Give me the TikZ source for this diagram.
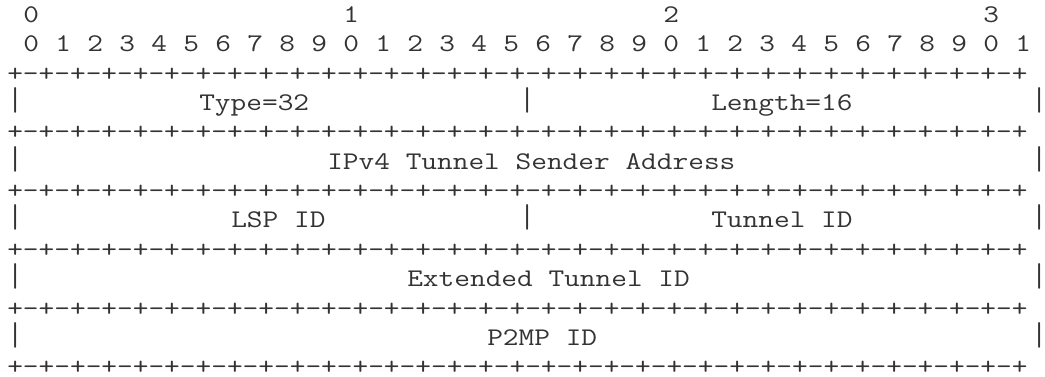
\documentclass[tikz,border=0pt]{standalone}
\usepackage{fontspec}
\usepackage{tikz}
\setmonofont{Latin Modern Mono}[FakeStretch=1.2]
\usetikzlibrary{positioning}
\newcommand{\quadpair}{+-+-+-+-}
\newcommand{\bitrule}{\quadpair\quadpair\quadpair\quadpair\quadpair\quadpair\quadpair\quadpair+}
\newcommand{\tallbar}{\scalebox{1}[1.3]{|}}

\begin{document}
\begin{tikzpicture}[
    x=12pt, y=-22.01pt,
    cell/.style={inner sep=0pt, anchor=base west, text=black!80, font=\ttfamily\fontsize{19.05}{22}\selectfont},
    bar/.style={cell},
    field/.style={cell}
]
\useasboundingbox (-5.25pt,16.9pt) rectangle ++(783.75pt,-282pt);
% bit numbering
\foreach \d in {0,...,3}
    \node[cell] (tens\d) at ({20*\d+1},0) {\d};
\foreach \b in {0,...,31} {
    \pgfmathtruncatemacro{\u}{mod(\b,10)}
    \node[cell] (bit\b) at ({2*\b+1},1) {\u};
}
% rules between words
\foreach \r in {2,4,...,12}
    \node[cell] (rule\r) at (0,\r) {\bitrule};
% side bars
\foreach \r in {3,5,...,11} {
    \node[bar] (left\r) at (0,\r) {\tallbar};
    \node[bar] (right\r) at (64,\r) {\tallbar};
}
\node[bar] (mid3) at (32,3) {\tallbar};
\node[bar] (mid7) at (32,7) {\tallbar};
% fields
\node[field] (type) at (12,3) {Type=32};
\node[field] (length) at (44,3) {Length=16};
\node[field] (sender) at (20,5) {IPv4 Tunnel Sender Address};
\node[field] (lspid) at (14,7) {LSP ID};
\node[field] (tunnelid) at (44,7) {Tunnel ID};
\node[field] (exttunnel) at (25,9) {Extended Tunnel ID};
\node[field] (p2mpid) at (30,11) {P2MP ID};
\end{tikzpicture}
\end{document}
